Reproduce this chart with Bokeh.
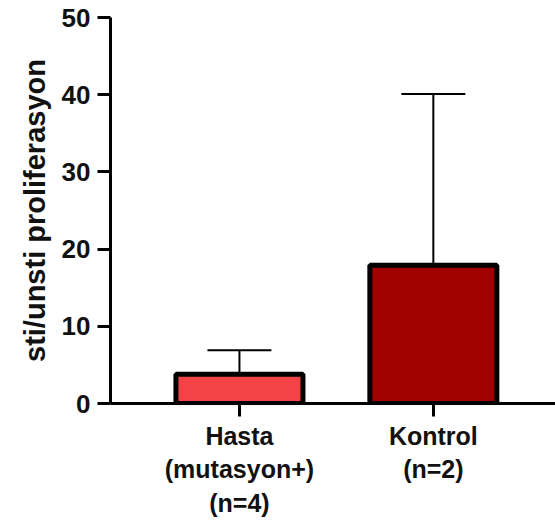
from bokeh.plotting import figure
from bokeh.models import Range1d, FixedTicker
from bokeh.embed import file_html
from bokeh.resources import INLINE

categories = ["Hasta\n(mutasyon+)\n(n=4)", "Kontrol\n(n=2)"]
means = [3.8, 17.9]
errors = [3.1, 22.2]
colors = ["#F44346", "#A00000"]
y_ticks = [0, 10, 20, 30, 40, 50]

xs = list(range(len(categories)))
bar_w = 0.655
cap_half = 0.165

p = figure(width=555, height=529, output_backend="svg", toolbar_location=None,
           x_range=Range1d(-0.665, 1.63), y_range=Range1d(0, 50),
           min_border_left=110, min_border_right=0, min_border_top=17,
           min_border_bottom=126)
p.outline_line_color = None
p.xgrid.grid_line_color = None
p.ygrid.grid_line_color = None
p.background_fill_color = "white"
p.border_fill_color = "white"

tops = [m + e for m, e in zip(means, errors)]
p.segment(x0=xs, y0=means, x1=xs, y1=tops, line_color="black", line_width=2)
p.segment(x0=[x - cap_half for x in xs], y0=tops, x1=[x + cap_half for x in xs], y1=tops,
          line_color="black", line_width=2)
p.vbar(x=xs, top=means, bottom=0, width=bar_w, fill_color=colors,
       line_color="black", line_width=5)

font = "Liberation Sans"
for ax in (p.xaxis[0], p.yaxis[0]):
    ax.axis_line_width = 3
    ax.major_tick_line_width = 3
    ax.major_tick_out = 13
    ax.major_tick_in = 0
    ax.minor_tick_line_color = None
    ax.major_label_text_font = font
    ax.major_label_text_font_style = "bold"
    ax.major_label_text_font_size = "26px"
    ax.major_label_text_color = "#111111"

p.yaxis.ticker = FixedTicker(ticks=y_ticks)
p.yaxis.major_label_standoff = 7
p.yaxis.axis_label = "sti/unsti proliferasyon"
p.yaxis.axis_label_text_font = font
p.yaxis.axis_label_text_font_style = "bold"
p.yaxis.axis_label_text_font_size = "29px"
p.yaxis.axis_label_text_color = "#111111"
p.yaxis.axis_label_standoff = 8

p.xaxis.ticker = FixedTicker(ticks=xs)
p.xaxis.major_label_overrides = {x: c for x, c in zip(xs, categories)}
p.xaxis.major_label_text_font_size = "25px"
p.xaxis.major_label_standoff = 5
p.xaxis.major_label_text_line_height = 1.2

open("out.html", "w").write(file_html(p, INLINE))
